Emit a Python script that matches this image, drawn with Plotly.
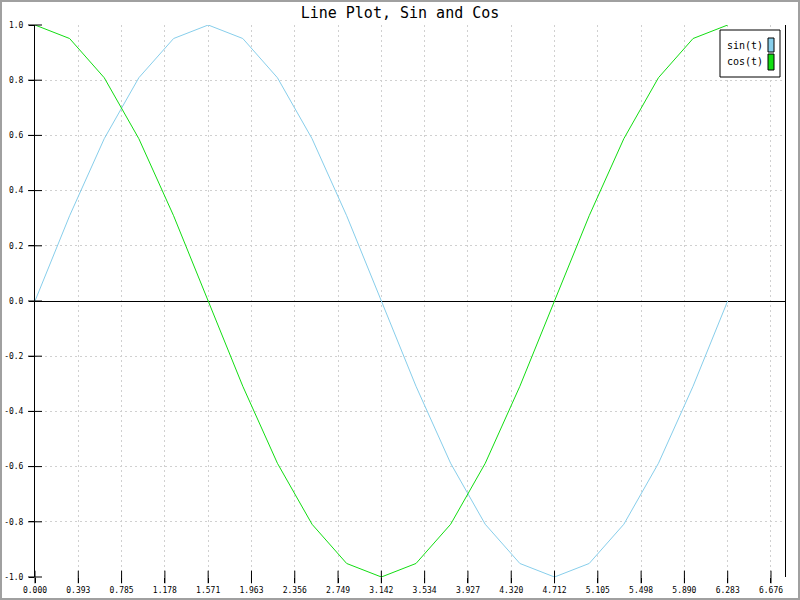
import plotly.graph_objects as go

title_text = "Line Plot, Sin and Cos"
series_names = ["sin(t)", "cos(t)"]

t = [0.000, 0.314, 0.628, 0.942, 1.257, 1.571, 1.885, 2.199, 2.513, 2.827, 3.142,
     3.456, 3.770, 4.084, 4.398, 4.712, 5.027, 5.341, 5.655, 5.969, 6.283]
sin_vals = [0.000, 0.309, 0.588, 0.809, 0.951, 1.000, 0.951, 0.809, 0.588, 0.309, 0.000,
            -0.309, -0.588, -0.809, -0.951, -1.000, -0.951, -0.809, -0.588, -0.309, 0.000]
cos_vals = [1.000, 0.951, 0.809, 0.588, 0.309, 0.000, -0.309, -0.588, -0.809, -0.951, -1.000,
            -0.951, -0.809, -0.588, -0.309, 0.000, 0.309, 0.588, 0.809, 0.951, 1.000]

x_tickvals = [0.0, 0.3927, 0.7854, 1.1781, 1.5708, 1.9635, 2.3562, 2.7489, 3.1416,
              3.5343, 3.9270, 4.3197, 4.7124, 5.1051, 5.4978, 5.8905, 6.2832, 6.6759]
x_ticktext = ["0.000", "0.393", "0.785", "1.178", "1.571", "1.963", "2.356", "2.749", "3.142",
              "3.534", "3.927", "4.320", "4.712", "5.105", "5.498", "5.890", "6.283", "6.676"]
y_tickvals = [-1.0, -0.8, -0.6, -0.4, -0.2, 0.0, 0.2, 0.4, 0.6, 0.8, 1.0]
y_ticktext = ["-1.0", "-0.8", "-0.6", "-0.4", "-0.2", "0.0", "0.2", "0.4", "0.6", "0.8", "1.0"]

sin_color = "#87ceeb"
cos_color = "#11dd11"

# plot area in pixels
L, R, T, B = 35, 15, 25, 23
W, H = 800, 600
pw, ph = W - L - R, H - T - B

def px_x(p):
    return (p - L) / pw

def px_y(p):
    return (H - B - p) / ph

mono = "DejaVu Sans Mono"

fig = go.Figure()
fig.add_trace(go.Scatter(x=t, y=sin_vals, mode="lines", name=series_names[0],
                         line=dict(color=sin_color, width=1), showlegend=False))
fig.add_trace(go.Scatter(x=t, y=cos_vals, mode="lines", name=series_names[1],
                         line=dict(color=cos_color, width=1), showlegend=False))

# crossing tick marks
fig.add_trace(go.Scatter(x=x_tickvals, y=[-1.0] * len(x_tickvals), mode="markers",
                         marker=dict(symbol="line-ns", size=9, line=dict(color="black", width=1)),
                         showlegend=False, hoverinfo="skip", cliponaxis=False))
fig.add_trace(go.Scatter(x=[0.0] * len(y_tickvals), y=y_tickvals, mode="markers",
                         marker=dict(symbol="line-ew", size=10, line=dict(color="black", width=1)),
                         showlegend=False, hoverinfo="skip", cliponaxis=False))

shapes = []
# outer image border
shapes.append(dict(type="rect", xref="paper", yref="paper",
                   x0=px_x(1), x1=px_x(799), y0=px_y(599), y1=px_y(1),
                   line=dict(color="#a0a0a0", width=2), layer="above"))
# legend box
shapes.append(dict(type="rect", xref="paper", yref="paper",
                   x0=px_x(720), x1=px_x(780), y0=px_y(77), y1=px_y(30),
                   line=dict(color="black", width=1), fillcolor="white", layer="above"))
# swatches
shapes.append(dict(type="rect", xref="paper", yref="paper",
                   x0=px_x(768), x1=px_x(774), y0=px_y(52), y1=px_y(38),
                   line=dict(color="black", width=1), fillcolor=sin_color, layer="above"))
shapes.append(dict(type="rect", xref="paper", yref="paper",
                   x0=px_x(768), x1=px_x(774), y0=px_y(70), y1=px_y(54),
                   line=dict(color="black", width=1), fillcolor=cos_color, layer="above"))

annotations = [
    dict(text=series_names[0], xref="paper", yref="paper", x=px_x(725), y=px_y(45),
         xanchor="left", yanchor="middle", showarrow=False,
         font=dict(family=mono, size=10, color="black")),
    dict(text=series_names[1], xref="paper", yref="paper", x=px_x(725), y=px_y(62),
         xanchor="left", yanchor="middle", showarrow=False,
         font=dict(family=mono, size=10, color="black")),
]

fig.update_layout(
    width=W, height=H,
    margin=dict(l=L, r=R, t=T, b=B, autoexpand=False),
    paper_bgcolor="white", plot_bgcolor="white",
    title=dict(text=title_text, x=0.5, xanchor="center", y=1 - 13 / H, yanchor="middle",
               font=dict(family=mono, size=15, color="black")),
    shapes=shapes, annotations=annotations,
    showlegend=False,
    xaxis=dict(range=[0, 6.803], tickvals=x_tickvals, ticktext=x_ticktext,
               showgrid=True, gridcolor="#d0d0d0", griddash="2px,3px", gridwidth=1,
               showline=False, zeroline=False, ticks="outside", ticklen=5, tickcolor="black",
               automargin=False,
               tickfont=dict(family=mono, size=8, color="black")),
    yaxis=dict(range=[-1, 1], tickvals=y_tickvals, ticktext=y_ticktext,
               showgrid=True, gridcolor="#d0d0d0", griddash="2px,3px", gridwidth=1,
               showline=True, linecolor="black", linewidth=1, mirror=True,
               zeroline=True, zerolinecolor="black", zerolinewidth=1,
               ticks="outside", ticklen=5, tickcolor="black", automargin=False,
               ticklabelstandoff=4,
               tickfont=dict(family=mono, size=8, color="black")),
)

fig.write_html("out.html", config={"displayModeBar": False},
               post_script="document.body.style.margin='0';document.body.style.overflow='hidden';")
